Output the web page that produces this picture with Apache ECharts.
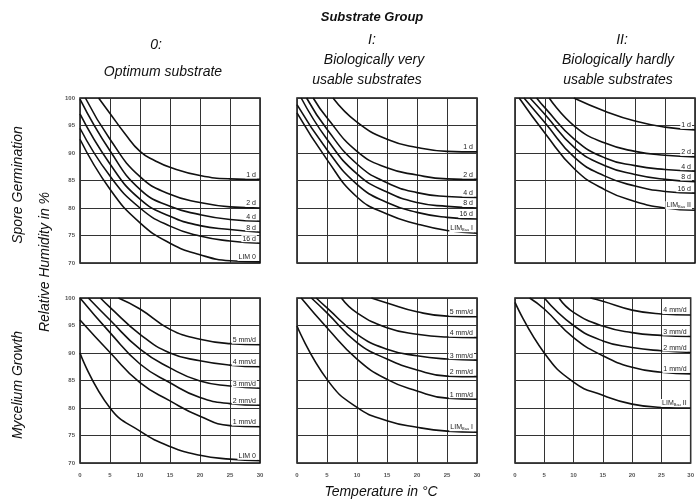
<!DOCTYPE html>
<html>
<head>
<meta charset="utf-8">
<script src="https://cdn.jsdelivr.net/npm/echarts@6/dist/echarts.min.js"></script>
<style>
  html, body { margin: 0; padding: 0; background: #fff; }
  #chart { width: 697px; height: 502px; }
</style>
</head>
<body>
<div id="chart"></div>
<script>
// axis ticks
const tempTicks = [0, 5, 10, 15, 20, 25, 30];
const humidTicks = [70, 75, 80, 85, 90, 95, 100];

// Spore germination, substrate group 0 -- [temperature, relative humidity]
const spore0_1d  = [[3.1,100],[5,97.2],[7.5,93.5],[10,90.3],[12.5,88.6],[15,87.4],[20,85.9],[25,85.3],[30,85.2]];
const spore0_2d  = [[0.9,100],[5,92.5],[10,85.7],[15,82.5],[20,81],[25,80.2],[30,80]];
const spore0_4d  = [[0,99.8],[5,90.4],[10,83.4],[15,80.3],[20,78.8],[25,77.9],[30,77.6]];
const spore0_8d  = [[0,97.1],[5,88],[10,81.6],[15,78.5],[20,76.8],[25,76.1],[30,75.6]];
const spore0_16d = [[0,94.5],[5,85.8],[10,80],[15,76.7],[20,74.9],[25,74],[30,73.6]];
const spore0_lim = [[0,92.5],[5,83.4],[10,77.3],[15,73.6],[20,71.5],[25,70.4],[30,70.2]];

// Spore germination, substrate group I
const spore1_1d  = [[6,100],[10,95.6],[15,92.5],[20,91],[25,90.3],[30,90.2]];
const spore1_2d  = [[2.7,100],[5,96.4],[10,90.3],[15,87.3],[20,86],[25,85.3],[30,85.2]];
const spore1_4d  = [[1.6,100],[5,94.3],[10,88],[15,84.6],[20,82.8],[25,82.1],[30,81.9]];
const spore1_8d  = [[0.7,100],[5,92.5],[10,86.2],[15,82.9],[20,81],[25,80.3],[30,80]];
const spore1_16d = [[0,98.8],[5,90.6],[10,84.3],[15,81],[20,79.2],[25,78.3],[30,78]];
const spore1_lim = [[0,97.3],[5,88.8],[10,82],[15,78.9],[20,77.1],[25,75.9],[30,75.4]];

// Spore germination, substrate group II
const spore2_1d  = [[9.8,100],[15,97.6],[20,95.8],[25,94.7],[30,94.2]];
const spore2_2d  = [[5.7,100],[10,94.8],[15,91.8],[20,90.3],[25,89.6],[30,89.3]];
const spore2_4d  = [[3.6,100],[5,98.2],[10,92.4],[15,89.1],[20,87.7],[25,87],[30,86.7]];
const spore2_8d  = [[2.5,100],[5,97],[10,90.9],[15,87.7],[20,86.1],[25,85.2],[30,84.8]];
const spore2_16d = [[1.5,100],[5,95.5],[10,89.1],[15,85.8],[20,84],[25,83],[30,82.7]];
const spore2_lim = [[0.7,100],[5,93.6],[10,87],[15,83.3],[20,81.2],[25,80],[30,79.6]];

// Mycelium growth, substrate group 0
const myc0_5 = [[6.4,100],[10,98],[15,94.3],[20,92.5],[25,91.7],[30,91.5]];
const myc0_4 = [[3.4,100],[5,98.3],[10,93.4],[15,90],[20,88.6],[25,87.8],[30,87.5]];
const myc0_3 = [[1.4,100],[5,96],[10,90.7],[15,87.3],[20,84.9],[25,84],[30,83.6]];
const myc0_2 = [[0,100],[5,93.7],[10,88],[15,84.6],[20,81.9],[25,80.8],[30,80.5]];
const myc0_1 = [[0,96],[5,90.1],[10,84.6],[15,81.3],[20,78.5],[25,76.8],[30,76.6]];
const myc0_lim = [[0,90],[5,80],[10,75.8],[15,73],[20,71.4],[25,70.7],[30,70.4]];

// Mycelium growth, substrate group I
const myc1_5 = [[12.4,100],[15,99.1],[20,97.5],[25,96.7],[30,96.6]];
const myc1_4 = [[7.4,100],[10,97.3],[15,94.6],[20,93.4],[25,92.9],[30,92.8]];
const myc1_3 = [[3.2,100],[5,98.2],[10,93.4],[15,90.7],[20,89.5],[25,88.9],[30,88.7]];
const myc1_2 = [[2.4,100],[5,97.3],[10,91.9],[15,88.9],[20,86.9],[25,85.8],[30,85.7]];
const myc1_1 = [[0.7,100],[5,94.6],[10,88.9],[15,85.2],[20,83.1],[25,81.8],[30,81.6]];
const myc1_lim = [[0,94.9],[5,85.2],[10,80.1],[15,77.7],[20,76.5],[25,75.8],[30,75.6]];

// Mycelium growth, substrate group II
const myc2_4 = [[12.9,100],[15,99.4],[20,97.8],[25,97.1],[30,96.9]];
const myc2_3 = [[7.5,100],[10,97.4],[15,94.9],[20,93.7],[25,93.2],[30,93]];
const myc2_2 = [[5,100],[10,95],[15,92.2],[20,91],[25,90.4],[30,90.1]];
const myc2_1 = [[2.5,100],[5,98],[10,92.8],[15,89.5],[20,87.4],[25,86.5],[30,86.2]];
const myc2_lim = [[0,99.2],[5,90],[10,84.7],[15,82.3],[20,80.7],[25,80.1],[30,80]];

const sporeNames0 = ['1 d', '2 d', '4 d', '8 d', '16 d', 'LIM 0'];
const sporeNames1 = ['1 d', '2 d', '4 d', '8 d', '16 d', '{a|LIM}{s|Bau}{a| I}'];
const sporeNames2 = ['1 d', '2 d', '4 d', '8 d', '16 d', '{a|LIM}{s|Bau}{a| II}'];
const mycNames0 = ['5 mm/d', '4 mm/d', '3 mm/d', '2 mm/d', '1 mm/d', 'LIM 0'];
const mycNames1 = ['5 mm/d', '4 mm/d', '3 mm/d', '2 mm/d', '1 mm/d', '{a|LIM}{s|Bau}{a| I}'];
const mycNames2 = ['4 mm/d', '3 mm/d', '2 mm/d', '1 mm/d', '{a|LIM}{s|Bau}{a| II}'];

const panels = [
  { curves: [spore0_1d, spore0_2d, spore0_4d, spore0_8d, spore0_16d, spore0_lim], names: sporeNames0 },
  { curves: [spore1_1d, spore1_2d, spore1_4d, spore1_8d, spore1_16d, spore1_lim], names: sporeNames1 },
  { curves: [spore2_1d, spore2_2d, spore2_4d, spore2_8d, spore2_16d, spore2_lim], names: sporeNames2 },
  { curves: [myc0_5, myc0_4, myc0_3, myc0_2, myc0_1, myc0_lim], names: mycNames0 },
  { curves: [myc1_5, myc1_4, myc1_3, myc1_2, myc1_1, myc1_lim], names: mycNames1 },
  { curves: [myc2_4, myc2_3, myc2_2, myc2_1, myc2_lim], names: mycNames2 }
];

const lefts = [80, 297, 515];
const tops = [98, 298];
const font = 'Liberation Sans, Arial, sans-serif';

const grids = [], xAxes = [], yAxes = [], series = [];
panels.forEach((p, i) => {
  const col = i % 3, row = Math.floor(i / 3);
  grids.push({ left: lefts[col], top: tops[row], width: 180, height: 165,
    show: true, borderColor: '#111', borderWidth: 1.5, backgroundColor: '#fff' });
  xAxes.push({
    type: 'value', gridIndex: i, min: tempTicks[0], max: tempTicks[tempTicks.length - 1], interval: 5,
    axisLine: { show: false }, axisTick: { show: false },
    splitLine: { lineStyle: { color: '#333', width: 1 } },
    axisLabel: { show: row === 1, fontSize: 6, fontWeight: 'bold', color: '#555', margin: 9, fontFamily: font }
  });
  yAxes.push({
    type: 'value', gridIndex: i, min: humidTicks[0], max: humidTicks[humidTicks.length - 1], interval: 5,
    axisLine: { show: false }, axisTick: { show: false },
    splitLine: { lineStyle: { color: '#333', width: 1 } },
    axisLabel: { show: col === 0, fontSize: 6, fontWeight: 'bold', color: '#555', margin: 5, fontFamily: font }
  });
  p.curves.forEach((c, k) => {
    series.push({
      type: 'line', xAxisIndex: i, yAxisIndex: i, data: c,
      smooth: 0.5, symbol: 'none', silent: true,
      lineStyle: { color: '#111', width: 1.6 },
      endLabel: {
        show: true, formatter: p.names[k], align: 'right', verticalAlign: 'bottom',
        distance: 0, offset: [-3, -1], fontSize: 7, color: '#222', fontFamily: font,
        backgroundColor: '#fff', padding: [0, 1, 0, 1],
        rich: {
          a: { fontSize: 7, color: '#222', fontFamily: font },
          s: { fontSize: 4, color: '#222', fontFamily: font, padding: [4, 0, 0, 0] }
        }
      }
    });
  });
});

const titleStyle = { fill: '#111', font: 'italic 14px Liberation Sans, Arial, sans-serif', textAlign: 'center' };
const txt = (x, y, t, extra) => ({ type: 'text', x, y, style: Object.assign({}, titleStyle, { text: t, textVerticalAlign: 'middle' }, extra || {}) });

const chart = echarts.init(document.getElementById('chart'));
chart.setOption({
  animation: false,
  grid: grids,
  xAxis: xAxes,
  yAxis: yAxes,
  series: series,
  graphic: [
    txt(372, 17, 'Substrate Group', { font: 'italic bold 13px Liberation Sans, Arial, sans-serif' }),
    txt(156, 45, '0:'),
    txt(163, 72, 'Optimum substrate'),
    txt(372, 40, 'I:'),
    txt(374, 60, 'Biologically very'),
    txt(367, 80, 'usable substrates'),
    txt(622, 40, 'II:'),
    txt(618, 60, 'Biologically hardly'),
    txt(618, 80, 'usable substrates'),
    txt(381, 492, 'Temperature in °C'),
    { type: 'text', x: 18, y: 185, rotation: Math.PI / 2,
      style: Object.assign({}, titleStyle, { text: 'Spore Germination', textVerticalAlign: 'middle' }) },
    { type: 'text', x: 18, y: 385, rotation: Math.PI / 2,
      style: Object.assign({}, titleStyle, { text: 'Mycelium Growth', textVerticalAlign: 'middle' }) },
    { type: 'text', x: 45, y: 262, rotation: Math.PI / 2,
      style: Object.assign({}, titleStyle, { text: 'Relative Humidity in %', textVerticalAlign: 'middle' }) }
  ]
});
</script>
</body>
</html>
